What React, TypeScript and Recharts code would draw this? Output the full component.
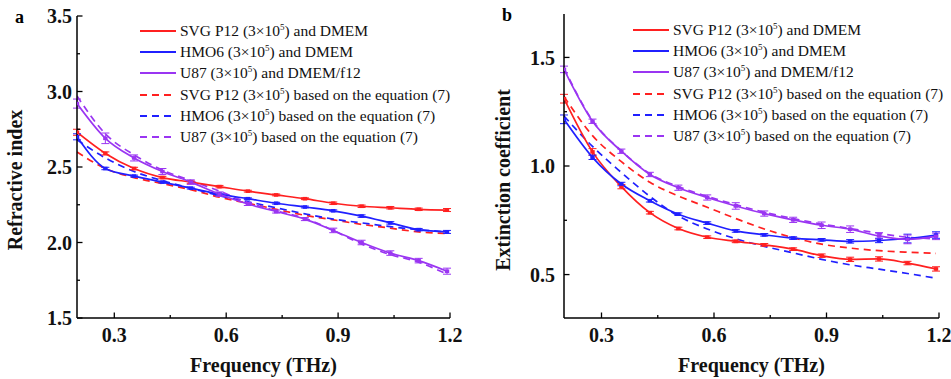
import React from 'react';
import { LineChart, Line, XAxis, YAxis, Legend, ErrorBar } from 'recharts';

// frequency points (THz)
const freq = [0.2, 0.276, 0.353, 0.429, 0.505, 0.582, 0.658, 0.734, 0.811, 0.887, 0.963, 1.04, 1.116, 1.192];

// (a) refractive index
const nSvg = [2.73, 2.59, 2.49, 2.43, 2.40, 2.37, 2.34, 2.315, 2.29, 2.26, 2.24, 2.23, 2.22, 2.215];
const nSvgErr = [0.02, 0.01, 0.008, 0.008, 0.008, 0.008, 0.006, 0.006, 0.006, 0.008, 0.008, 0.008, 0.008, 0.01];
const nHmo = [2.70, 2.49, 2.44, 2.40, 2.36, 2.32, 2.29, 2.26, 2.235, 2.21, 2.175, 2.13, 2.085, 2.07];
const nHmoErr = [0.02, 0.008, 0.006, 0.006, 0.006, 0.006, 0.006, 0.006, 0.006, 0.006, 0.008, 0.008, 0.008, 0.01];
const nU87 = [2.92, 2.69, 2.56, 2.47, 2.40, 2.32, 2.255, 2.205, 2.155, 2.08, 2.00, 1.93, 1.88, 1.81];
const nU87Err = [0.03, 0.035, 0.02, 0.02, 0.015, 0.015, 0.01, 0.01, 0.01, 0.015, 0.015, 0.015, 0.015, 0.02];
const nSvgEq = [2.60, 2.49, 2.43, 2.39, 2.35, 2.30, 2.26, 2.22, 2.18, 2.15, 2.12, 2.095, 2.07, 2.06];
const nHmoEq = [2.68, 2.56, 2.47, 2.41, 2.36, 2.31, 2.27, 2.23, 2.19, 2.155, 2.13, 2.105, 2.085, 2.07];
const nU87Eq = [2.97, 2.72, 2.58, 2.48, 2.41, 2.34, 2.265, 2.21, 2.16, 2.08, 1.99, 1.92, 1.87, 1.79];

// (b) extinction coefficient
const kSvg = [1.31, 1.065, 0.905, 0.785, 0.712, 0.672, 0.653, 0.637, 0.617, 0.587, 0.570, 0.572, 0.553, 0.526];
const kSvgErr = [0.02, 0.015, 0.01, 0.006, 0.006, 0.006, 0.006, 0.006, 0.006, 0.008, 0.01, 0.01, 0.008, 0.01];
const kHmo = [1.215, 1.04, 0.917, 0.84, 0.778, 0.737, 0.701, 0.683, 0.668, 0.660, 0.653, 0.657, 0.666, 0.682];
const kHmoErr = [0.02, 0.01, 0.008, 0.006, 0.006, 0.006, 0.006, 0.006, 0.006, 0.006, 0.008, 0.01, 0.02, 0.015];
const kU87 = [1.445, 1.206, 1.068, 0.961, 0.90, 0.855, 0.816, 0.781, 0.752, 0.727, 0.709, 0.678, 0.662, 0.676];
const kU87Err = [0.015, 0.01, 0.01, 0.01, 0.012, 0.012, 0.015, 0.012, 0.012, 0.015, 0.015, 0.015, 0.02, 0.015];
const kSvgEq = [1.32, 1.14, 1.02, 0.925, 0.862, 0.81, 0.758, 0.71, 0.67, 0.64, 0.622, 0.61, 0.603, 0.598];
const kHmoEq = [1.23, 1.09, 0.97, 0.86, 0.77, 0.71, 0.665, 0.63, 0.60, 0.57, 0.545, 0.525, 0.505, 0.483];
const kU87Eq = [1.45, 1.21, 1.07, 0.965, 0.905, 0.86, 0.822, 0.787, 0.758, 0.733, 0.712, 0.69, 0.672, 0.665];

// axis ticks
const xTicks = [0.3, 0.45, 0.6, 0.75, 0.9, 1.05, 1.2];
const xMajor = [0.3, 0.6, 0.9, 1.2];
const nTicks = [1.5, 1.75, 2.0, 2.25, 2.5, 2.75, 3.0, 3.25, 3.5];
const nMajor = [1.5, 2.0, 2.5, 3.0, 3.5];
const kTicks = [0.5, 0.75, 1.0, 1.25, 1.5];
const kMajor = [0.5, 1.0, 1.5];

// legend labels
const cellNames = ['SVG P12', 'HMO6', 'U87'];
const mediumNames = ['and DMEM', 'and DMEM', 'and DMEM/f12'];
const eqSuffix = 'based on the equation (7)';

const RED = '#ff2020';
const BLUE = '#2020ff';
const PURPLE = '#9a35f2';
const colors = [RED, BLUE, PURPLE];

const serif = '"Liberation Serif", "Times New Roman", serif';

const nData = freq.map((f, i) => ({
  f,
  svg: nSvg[i], svgErr: nSvgErr[i],
  hmo: nHmo[i], hmoErr: nHmoErr[i],
  u87: nU87[i], u87Err: nU87Err[i],
  svgEq: nSvgEq[i], hmoEq: nHmoEq[i], u87Eq: nU87Eq[i],
}));

const kData = freq.map((f, i) => ({
  f,
  svg: kSvg[i], svgErr: kSvgErr[i],
  hmo: kHmo[i], hmoErr: kHmoErr[i],
  u87: kU87[i], u87Err: kU87Err[i],
  svgEq: kSvgEq[i], hmoEq: kHmoEq[i], u87Eq: kU87Eq[i],
}));

const keys = ['svg', 'hmo', 'u87'];

const axisFont = { fontFamily: serif, fontWeight: 700, fontSize: 20, fill: '#111' };

const AxisTick = (props: any) => {
  const { x, y, payload, side, major, gap } = props;
  const v = payload.value;
  const isMajor = major.some((m: number) => Math.abs(m - v) < 1e-6);
  const len = isMajor ? 5.5 : 3;
  let x2 = x;
  let y2 = y;
  if (side === 'bottom') y2 = y - len;
  if (side === 'top') y2 = y + len;
  if (side === 'left') x2 = x + len;
  if (side === 'right') x2 = x - len;
  return (
    <g>
      <line x1={x} y1={y} x2={x2} y2={y2} stroke="#000" strokeWidth={1.3} />
      {isMajor && side === 'bottom' && (
        <text x={x} y={y + 24} textAnchor="middle" style={axisFont}>{v.toFixed(1)}</text>
      )}
      {isMajor && side === 'left' && (
        <text x={x - gap} y={y} dy="0.36em" textAnchor="end" style={axisFont}>{v.toFixed(1)}</text>
      )}
    </g>
  );
};

const XTitle = (props: any) => {
  const { viewBox } = props;
  return (
    <text x={viewBox.x + viewBox.width / 2} y={viewBox.y + 54} textAnchor="middle" style={axisFont}>
      Frequency (THz)
    </text>
  );
};

const YTitle = (props: any) => {
  const { cx, cy, text } = props;
  return (
    <text
      x={cx}
      y={cy}
      transform={`rotate(-90 ${cx} ${cy})`}
      textAnchor="middle"
      dominantBaseline="central"
      style={axisFont}
    >
      {text}
    </text>
  );
};

const LegendBox = () => {
  const rows: { color: string; dashed: boolean; name: string; rest: string }[] = [];
  cellNames.forEach((c, i) => rows.push({ color: colors[i], dashed: false, name: c, rest: mediumNames[i] }));
  cellNames.forEach((c, i) => rows.push({ color: colors[i], dashed: true, name: c, rest: eqSuffix }));
  return (
    <div style={{ fontFamily: serif, fontSize: 15.5, color: '#111' }}>
      {rows.map((r, i) => (
        <div key={i} style={{ display: 'flex', alignItems: 'center', height: 21.3, whiteSpace: 'nowrap' }}>
          <svg width={36} height={6} style={{ marginRight: 4 }}>
            <line x1={0} y1={3} x2={36} y2={3} stroke={r.color} strokeWidth={1.8}
              strokeDasharray={r.dashed ? '7 5' : undefined} />
          </svg>
          <span>
            {r.name} (3×10<sup style={{ fontSize: 9, verticalAlign: 6, lineHeight: 0 }}>5</sup>) {r.rest}
          </span>
        </div>
      ))}
    </div>
  );
};

const squareDot = (color: string) => (p: any) => (
  <rect key={`d${p.index}`} x={p.cx - 2.2} y={p.cy - 1.8} width={4.4} height={3.6} fill={color} />
);

type PanelProps = {
  data: any[];
  width: number;
  margin: { top: number; right: number; left: number; bottom: number };
  yDomain: [number, number];
  yTicks: number[];
  yMajor: number[];
  yTitle: string;
  yTitleX: number;
  tickGap: number;
  legendLeft: number;
  legendTop: number;
};

const Panel = ({ data, width, margin, yDomain, yTicks, yMajor, yTitle, yTitleX, tickGap, legendLeft, legendTop }: PanelProps) => (
  <LineChart width={width} height={379} data={data} margin={margin}>
    <XAxis xAxisId="b" dataKey="f" type="number" domain={[0.2, 1.2]} ticks={xTicks} interval={0}
      allowDataOverflow height={61} tickLine={false} tickSize={0} tickMargin={0}
      axisLine={{ stroke: '#000', strokeWidth: 1.5 }}
      tick={<AxisTick side="bottom" major={xMajor} />}
      label={<XTitle />} />
    <XAxis xAxisId="t" dataKey="f" type="number" orientation="top" domain={[0.2, 1.2]} ticks={xTicks}
      interval={0} allowDataOverflow height={0} tickLine={false} tickSize={0} tickMargin={0}
      axisLine={{ stroke: '#000', strokeWidth: 1.5 }}
      tick={<AxisTick side="top" major={xMajor} />} />
    <YAxis yAxisId="l" type="number" domain={yDomain} ticks={yTicks} interval={0} allowDataOverflow
      width={60} tickLine={false} tickSize={0} tickMargin={0}
      axisLine={{ stroke: '#000', strokeWidth: 1.5 }}
      tick={<AxisTick side="left" major={yMajor} gap={tickGap} />}
      label={<YTitle cx={yTitleX} cy={180} text={yTitle} />} />
    <YAxis yAxisId="r" type="number" orientation="right" domain={yDomain} ticks={yTicks} interval={0}
      allowDataOverflow width={0} tickLine={false} tickSize={0} tickMargin={0}
      axisLine={{ stroke: '#000', strokeWidth: 1.5 }}
      tick={<AxisTick side="right" major={yMajor} />} />
    <Legend layout="vertical" align="center" verticalAlign="middle" content={() => <LegendBox />}
      wrapperStyle={{ left: legendLeft, top: legendTop, width: 340 }} />
    {keys.map((k, i) => (
      <Line key={`${k}Eq`} xAxisId="b" yAxisId="l" dataKey={`${k}Eq`} type="monotone" stroke={colors[i]}
        strokeWidth={1.7} strokeDasharray="7 5" dot={false} activeDot={false} isAnimationActive={false} />
    ))}
    {keys.map((k, i) => (
      <Line key={k} xAxisId="b" yAxisId="l" dataKey={k} type="monotone" stroke={colors[i]}
        strokeWidth={1.7} dot={squareDot(colors[i])} activeDot={false} isAnimationActive={false}>
        <ErrorBar dataKey={`${k}Err`} width={4} stroke={colors[i]} strokeWidth={1} direction="y"
          isAnimationActive={false} />
      </Line>
    ))}
  </LineChart>
);

export default function App() {
  return (
    <div style={{ position: 'relative', width: 951, height: 379, background: '#fff', fontFamily: serif }}>
      <style>{'body{margin:0}'}</style>
      <div style={{ position: 'absolute', left: 0, top: 0 }}>
        <Panel data={nData} width={470} margin={{ top: 16, right: 20, left: 17, bottom: 0 }}
          yDomain={[1.5, 3.5]} yTicks={nTicks} yMajor={nMajor} yTitle="Refractive index" yTitleX={15}
          tickGap={5} legendLeft={140} legendTop={20} />
      </div>
      <div style={{ position: 'absolute', left: 470, top: 0 }}>
        <Panel data={kData} width={481} margin={{ top: 14, right: 12, left: 34, bottom: 0 }}
          yDomain={[0.3, 1.7]} yTicks={kTicks} yMajor={kMajor} yTitle="Extinction coefficient" yTitleX={33}
          tickGap={9} legendLeft={163} legendTop={19} />
      </div>
      <span style={{ position: 'absolute', left: 15, top: 7, fontWeight: 700, fontSize: 18 }}>a</span>
      <span style={{ position: 'absolute', left: 502, top: 5, fontWeight: 700, fontSize: 18 }}>b</span>
    </div>
  );
}
